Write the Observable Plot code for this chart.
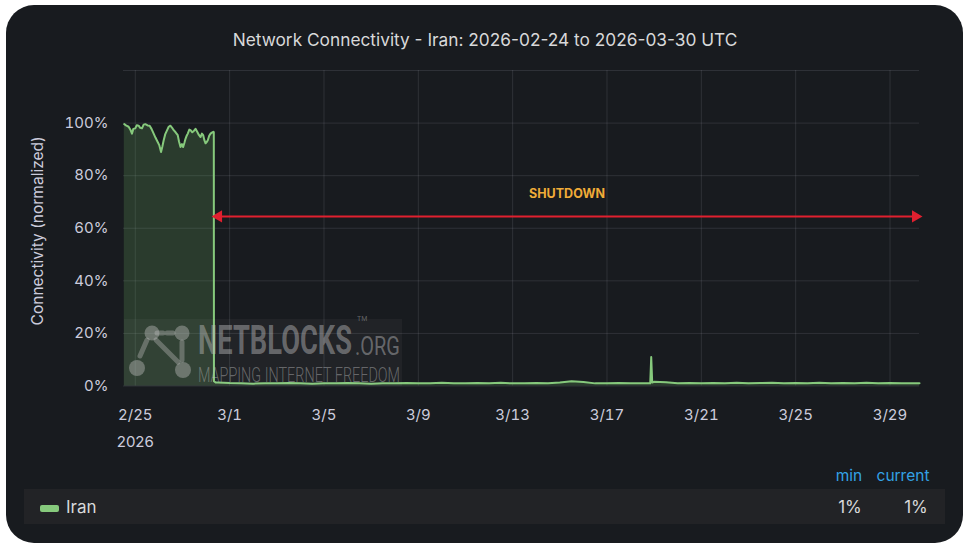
<!DOCTYPE html>
<html>
<head>
<meta charset="utf-8">
<script src="https://cdn.jsdelivr.net/npm/d3@7"></script>
<script src="https://cdn.jsdelivr.net/npm/@observablehq/plot@0.6"></script>
<style>
  html, body { margin: 0; padding: 0; background: #ffffff; }
  #page { position: relative; width: 970px; height: 550px; overflow: hidden; background: #ffffff; font-family: Inter, Roboto, "Noto Sans", sans-serif; }
  #panel { position: absolute; left: 6px; top: 5px; width: 957px; height: 538px; border-radius: 28px; background: #181b1f; }
  #title { position: absolute; left: 0; top: 29px; width: 970px; text-align: center; color: #d8d9da; font-size: 17.3px; }
  #chart { position: absolute; left: 0; top: 0; }
  #wm { position: absolute; left: 0; top: 0; pointer-events: none; }
  .hdr { position: absolute; top: 466px; color: #33a2e5; font-size: 15.5px; transform: translateX(-50%); }
  #row { position: absolute; left: 24px; top: 489px; width: 921px; height: 35px; background: #222326; }
  #swatch { position: absolute; left: 40px; top: 505px; width: 19px; height: 7px; border-radius: 2px; background: #86c97c; }
  #iran { position: absolute; left: 66px; top: 497px; color: #d8d9da; font-size: 17px; }
  .val { position: absolute; top: 497px; color: #d8d9da; font-size: 17px; transform: translateX(-50%); }
</style>
</head>
<body>
<div id="page">
  <div id="panel"></div>
  <div id="title"></div>
  <div id="chart"></div>
  <svg id="wm" width="970" height="550">
    <rect x="124" y="319" width="278" height="67" fill="rgba(255,255,255,0.04)"></rect>
    <g stroke="rgba(190,190,190,0.38)" stroke-width="5" stroke-linecap="round" fill="none">
      <line x1="157" y1="333" x2="176" y2="333" stroke-dasharray="6 4"></line>
      <line x1="156" y1="340" x2="178" y2="362"></line>
      <line x1="147" y1="340" x2="140" y2="356"></line>
      <line x1="182" y1="342" x2="182" y2="360"></line>
    </g>
    <g fill="rgba(190,190,190,0.42)">
      <circle cx="152" cy="333" r="7.5"></circle>
      <circle cx="182" cy="333" r="7.5"></circle>
      <circle cx="137" cy="368" r="8"></circle>
      <circle cx="183" cy="370" r="8"></circle>
    </g>
    <g fill="rgba(190,190,190,0.45)" font-family="Roboto, 'DejaVu Sans', sans-serif">
      <text transform="translate(198,354) scale(1,1.52)" x="0" y="0" font-size="27" font-weight="700" textLength="154" lengthAdjust="spacingAndGlyphs">NETBLOCKS</text>
      <text x="357" y="321" font-size="7">TM</text>
      <text transform="translate(355,355) scale(1,1.3)" x="0" y="0" font-size="20" font-weight="400" textLength="45" lengthAdjust="spacingAndGlyphs">.ORG</text>
      <text transform="translate(198,382) scale(1,1.4)" x="0" y="0" font-size="15" font-weight="300" textLength="202" lengthAdjust="spacingAndGlyphs">MAPPING INTERNET FREEDOM</text>
    </g>
  </svg>
  <div id="row"></div>
  <div id="swatch"></div>
  <div id="iran"></div>
  <div class="hdr" style="left:849px" id="hmin"></div>
  <div class="hdr" style="left:903px" id="hcur"></div>
  <div class="val" style="left:850px" id="vmin"></div>
  <div class="val" style="left:916px" id="vcur"></div>
</div>
<script>
// ---------- data ----------
const titleText = "Network Connectivity - Iran: 2026-02-24 to 2026-03-30 UTC";
const yAxisLabel = "Connectivity (normalized)";
const seriesName = "Iran";
const legendHeaders = ["min", "current"];
const legendValues = ["1%", "1%"];
const annotationText = "SHUTDOWN";
const yearLabel = "2026";

const domainStart = "2026-02-24T12:00:00Z";
const domainEnd = "2026-03-30T06:00:00Z";

// pre-shutdown: hours after 2026-02-24 12:00 UTC, and connectivity %
const preHours = [0.8, 3, 5.2, 7, 8.6, 10, 12, 13.5, 15.4, 17, 18.8, 20.5, 22.2, 24.5, 26.6, 28.5, 30.7, 32.5, 34.8, 36.5, 38.2, 39.5, 40.9, 42.5, 44.4, 46, 47.7, 49.5, 51.1, 53, 55.2, 56.5, 58, 59.5, 60.7, 62, 63.1, 64.3, 65.4, 67, 68.2, 70, 71.6, 73.3, 75, 76.7, 78.4, 79.8, 81.1, 82.3, 83.5, 84.7, 85.8, 87.2, 88.6, 90, 91.4, 91.9, 92.05, 94];
const preValues = [99.6, 99.0, 98.6, 97.5, 96, 97.8, 98, 99.2, 99, 98.2, 98, 99.4, 99.6, 99.1, 99, 97.8, 96, 94.5, 92.8, 91.5, 89, 91, 93.5, 95.8, 97.3, 98.6, 99, 98.2, 97.3, 96.5, 95.4, 93, 90.9, 92, 90.9, 92.5, 94, 95.2, 96, 97.5, 97.3, 96.5, 97, 97.8, 96.7, 95.5, 94.7, 96, 95.4, 93.5, 92.3, 92.8, 93.5, 95.2, 96, 96.4, 96.7, 96.5, 1.8, 1.3];

// post-shutdown: every 12 h from 2026-02-28 12:00 UTC
const postStart = "2026-02-28T12:00:00Z";
const postStepHours = 12;
const postValues = [1.3,
  1.1, 1.0, 0.9, 1.0, 1.0, 1.1, 1.0, 0.9, 1.0, 1.0, 1.1, 1.0, 0.9, 1.0, 1.0, 1.1, 1.0, 1.0,
  1.2, 1.0, 1.0, 1.1, 1.0, 1.2, 1.0, 1.0, 1.1, 1.0, 1.3, 1.8, 1.5, 1.0, 1.0, 1.1, 1.0, 1.0,
  1.6, 1.4, 1.0, 1.1, 1.0, 1.1, 1.0, 1.2, 1.0, 1.1, 1.2, 1.0, 1.1, 1.0, 1.2, 1.0, 1.1, 1.0,
  1.2, 1.0, 1.1, 1.0,
  1.0];
// brief spike
const spikeTimes = ["2026-03-18T20:00:00Z", "2026-03-18T21:00:00Z", "2026-03-18T22:00:00Z"];
const spikeValues = [1.0, 11, 1.3];
const endTime = "2026-03-30T06:00:00Z";
const endValue = 1.0;

const xTickDates = ["2026-02-25", "2026-03-01", "2026-03-05", "2026-03-09", "2026-03-13", "2026-03-17", "2026-03-21", "2026-03-25", "2026-03-29"];
const yTicks = [0, 20, 40, 60, 80, 100];
const yGrid = [0, 20, 40, 60, 80, 100, 120];

const arrowStart = "2026-02-28T08:40:00Z";
const arrowY = 64.5;
const annotationY = 73;

// ---------- build ----------
const t0 = Date.parse(domainStart);
const data = [];
preHours.forEach((h, i) => data.push({t: new Date(t0 + h * 3600e3), v: preValues[i]}));
const p0 = Date.parse(postStart);
postValues.forEach((v, i) => data.push({t: new Date(p0 + i * postStepHours * 3600e3), v}));
spikeTimes.forEach((s, i) => data.push({t: new Date(s), v: spikeValues[i]}));
data.push({t: new Date(endTime), v: endValue});
data.sort((a, b) => a.t - b.t);

const xTicks = xTickDates.map(d => new Date(d + "T00:00:00Z"));
const xDomain = [new Date(domainStart), new Date(domainEnd)];
const aStart = new Date(arrowStart), aEnd = new Date(domainEnd);
const mid = new Date((aStart.getTime() + aEnd.getTime()) / 2);
const red = "#e0202f";

const chart = Plot.plot({
  width: 970,
  height: 460,
  marginLeft: 123,
  marginRight: 51,
  marginTop: 70,
  marginBottom: 74.5,
  style: {background: "transparent", color: "#ccccdc", fontFamily: "Inter, Roboto, sans-serif", fontSize: "15px"},
  x: {type: "utc", domain: xDomain},
  y: {domain: [0, 120]},
  marks: [
    Plot.gridY(yGrid, {stroke: "#ccccdc", strokeOpacity: 0.13, strokeWidth: 1}),
    Plot.gridX(xTicks, {stroke: "#ccccdc", strokeOpacity: 0.13, strokeWidth: 1}),
    Plot.areaY(data, {x: "t", y: "v", fill: "#73bf69", fillOpacity: 0.2}),
    Plot.lineY(data, {x: "t", y: "v", stroke: "#86c97c", strokeWidth: 2}),
    Plot.axisY(yTicks, {tickSize: 0, tickPadding: 15, tickFormat: d => d + "%", label: null, fill: "#ccccdc"}),
    Plot.axisX(xTicks, {tickSize: 0, tickPadding: 23, tickFormat: d3.utcFormat("%-m/%-d"), label: null, fill: "#ccccdc"}),
    Plot.text([{t: xTicks[0], s: yearLabel}], {x: "t", text: "s", frameAnchor: "bottom", dy: 61, fill: "#ccccdc", fontSize: 15}),
    Plot.text([{v: 59, s: yAxisLabel}], {y: "v", text: "s", frameAnchor: "left", textAnchor: "middle", dx: -85, rotate: -90, fill: "#ccccdc", fontSize: 15.5}),
    Plot.link([{x1: aStart, x2: aEnd, y: arrowY}], {x1: "x1", x2: "x2", y1: "y", y2: "y", stroke: red, strokeWidth: 2}),
    Plot.dot([{x: aStart, y: arrowY}], {x: "x", y: "y", symbol: "triangle", rotate: -90, r: 4.5, fill: red, dx: 4}),
    Plot.dot([{x: aEnd, y: arrowY}], {x: "x", y: "y", symbol: "triangle", rotate: 90, r: 4.5, fill: red, dx: -4}),
    Plot.text([{x: mid, y: annotationY, s: annotationText}], {x: "x", y: "y", text: "s", fill: "#f0ac38", fontWeight: "bold", fontSize: 12.5})
  ]
});
document.getElementById("chart").appendChild(chart);

document.getElementById("title").textContent = titleText;
document.getElementById("iran").textContent = seriesName;
document.getElementById("hmin").textContent = legendHeaders[0];
document.getElementById("hcur").textContent = legendHeaders[1];
document.getElementById("vmin").textContent = legendValues[0];
document.getElementById("vcur").textContent = legendValues[1];
</script>
</body>
</html>
